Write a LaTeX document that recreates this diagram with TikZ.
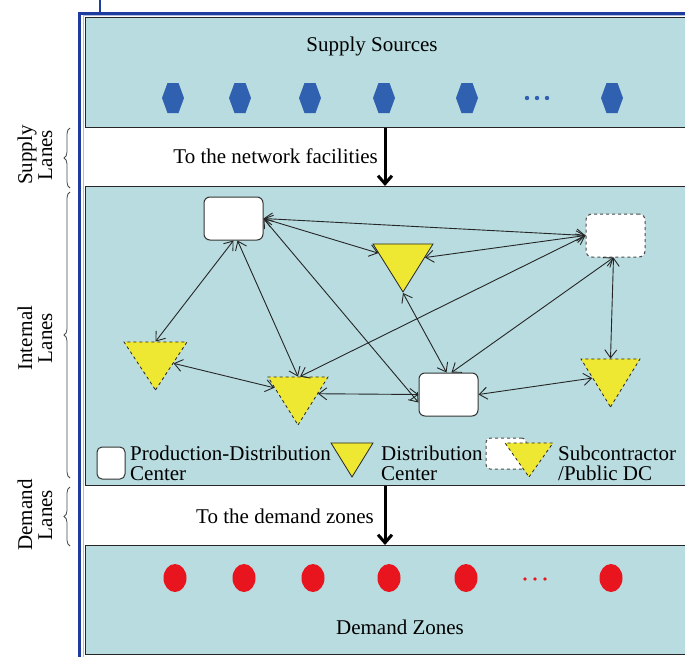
\documentclass[tikz,border=0pt]{standalone}
\usepackage{fontspec}
\setmainfont{Liberation Serif}
\usetikzlibrary{arrows.meta,shapes.geometric,decorations.pathreplacing}
\definecolor{panel}{RGB}{184,220,224}
\definecolor{frameblue}{RGB}{30,60,160}
\definecolor{hexblue}{RGB}{48,96,176}
\definecolor{zonered}{RGB}{232,20,30}
\definecolor{dcyellow}{RGB}{238,232,50}
\tikzset{
  lbl/.style={font=\fontsize{21}{20}\selectfont, inner sep=0pt},
  panelbox/.style={fill=panel, draw=black!85, line width=1.2pt, inner sep=0pt, anchor=north west, minimum width=620pt},
  pdbox/.style={draw=black!80, fill=white, rounded corners=6pt, line width=1pt,
    minimum width=59pt, minimum height=43pt, inner sep=0pt},
  subbox/.style={pdbox, dashed, draw=black!70},
  tri/.style={isosceles triangle, isosceles triangle stretches, shape border rotate=270,
    minimum width=60pt, minimum height=48pt, inner sep=0pt, anchor=apex,
    fill=dcyellow, draw=black!85, line width=0.8pt},
  subtri/.style={tri, dashed},
  link/.style={<->, >={Straight Barb[length=8pt,width=12pt]}, line width=0.9pt, draw=black!85},
  flow/.style={-{Straight Barb[length=8pt,width=14pt]}, line width=3pt},
  lanebrace/.style={decorate, decoration={brace, amplitude=6pt}, draw=black!70, line width=0.8pt},
  hexsrc/.pic={\fill[hexblue] (-11,0) -- (-5.5,-15) -- (5.5,-15) -- (11,0) -- (5.5,15) -- (-5.5,15) -- cycle;},
  zone/.pic={\fill[zonered] (0,0) ellipse (11.5pt and 14pt);}
}
\begin{document}
\begin{tikzpicture}[x=1pt,y=-1pt]
\useasboundingbox (0,0) rectangle (685,656);
\fill[white] (0,0) rectangle (685,656);

% outer blue frame
\draw[frameblue!35, line width=0.8pt] (83,660) -- (83,15.8) -- (690,15.8);
\draw[frameblue, line width=2.6pt] (79.5,660) -- (79.5,13.5) -- (690,13.5);
\draw[frameblue, line width=2pt] (100,0) -- (100,13.5);

% the three panels
\node[panelbox, minimum height=110pt] (supply) at (85,17) {};
\node[panelbox, minimum height=299pt] (internal) at (85,186) {};
\node[panelbox, minimum height=109pt] (demand) at (85,545) {};

% supply sources
\node[lbl] (suptitle) at (372,46) {Supply Sources};
\foreach \x in {173,240,310,384,467,612} \pic at (\x,98) {hexsrc};
\foreach \x in {527,537,547} \fill[hexblue] (\x,98) circle (2.2pt);

% demand zones
\node[lbl] (demtitle) at (400,627) {Demand Zones};
\foreach \x in {175,244,313,389,466,611} \pic at (\x,578) {zone};
\foreach \x in {525,535,545} \fill[zonered] (\x,579) circle (1.8pt);

% flows between the layers
\coordinate (flowx) at (385,0);
\draw[flow] (supply.south -| flowx) -- (internal.north -| flowx);
\draw[flow] (internal.south -| flowx) -- (demand.north -| flowx);
\node[lbl, anchor=east] (nettext) at (378,156) {To the network facilities};
\node[lbl, anchor=east] (demtext) at (374,516) {To the demand zones};

% network facilities
\node[pdbox] (pd1) at (233.5,218.5) {};
\node[pdbox] (pd2) at (448.5,394.5) {};
\node[subbox] (sub) at (615.5,235.5) {};
\node[tri] (dc) at (403,293) {};
\node[subtri, minimum width=63pt] (lt) at (155.5,391) {};
\node[subtri] (mt) at (298,426) {};
\node[subtri, minimum width=59pt] (rt) at (610.5,408) {};

% internal lanes
\draw[link] (pd1.south) -- (lt.lower side);
\draw[link] ([xshift=4pt]pd1.south) -- (mt.lower side);
\draw[link] (pd1.east) -- (sub.west);
\draw[link] (pd1.east) -- (dc);
\draw[link] (pd1.east) -- ([yshift=-8pt]pd2.west);
\draw[link] (dc) -- (sub.west);
\draw[link] (dc.apex) -- ([xshift=-2pt]pd2.north);
\draw[link] ([xshift=2pt]mt.lower side) -- (sub.west);
\draw[link] ([xshift=3pt]pd2.north) -- ([xshift=-2pt]sub.south);
\draw[link] ([xshift=-2pt]sub.south) -- (rt.lower side);
\draw[link] (lt) -- (mt);
\draw[link] (mt) -- (pd2.west);
\draw[link] (pd2.east) -- (rt);

% legend
\node[pdbox, minimum width=28pt, minimum height=32pt, rounded corners=5pt] (legpd) at (111,463) {};
\node[lbl, anchor=west, align=left] (legpdtext) at (130,463) {Production-Distribution\\Center};
\node[tri, minimum width=42pt, minimum height=34pt] (legdc) at (352,478) {};
\node[lbl, anchor=west, align=left] (legdctext) at (381,463) {Distribution\\Center};
\node[subbox, minimum width=40pt, minimum height=31pt, rounded corners=4pt] (legsubbox) at (506,453.5) {};
\node[subtri, minimum width=48pt, minimum height=34pt] (legsubtri) at (529,478) {};
\node[lbl, anchor=west, align=left] (legsubtext) at (558,463) {Subcontractor\\/Public DC};

% lane braces and their labels
\draw[lanebrace] (70,188) -- (70,128);
\draw[lanebrace] (70,478) -- (70,192);
\draw[lanebrace] (70,546) -- (70,487);
\node[lbl, rotate=90, align=center] (supplanes) at (35,155) {Supply\\Lanes};
\node[lbl, rotate=90, align=center] (intlanes) at (35,338) {Internal\\Lanes};
\node[lbl, rotate=90, align=center] (demlanes) at (35,515) {Demand\\Lanes};
\end{tikzpicture}
\end{document}
